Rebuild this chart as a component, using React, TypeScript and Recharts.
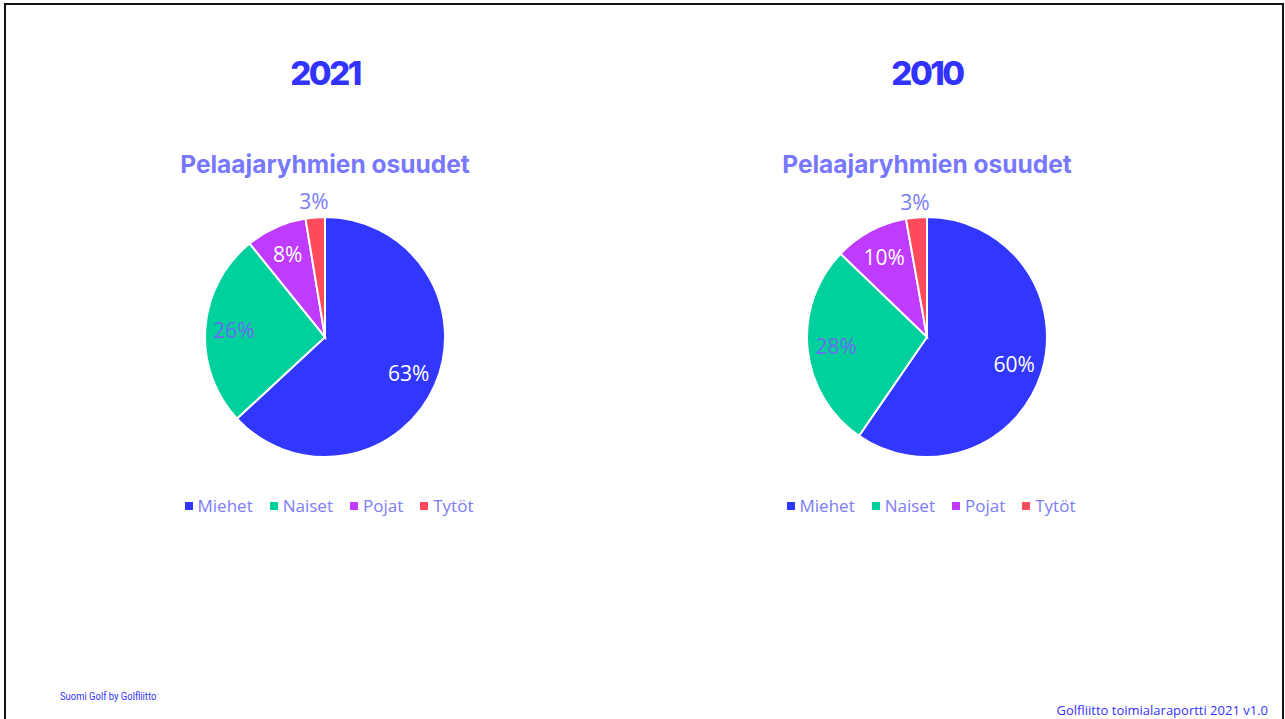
import { Cell, Legend, Pie, PieChart } from 'recharts';

const groups = ['Miehet', 'Naiset', 'Pojat', 'Tytöt'];
const shares2021 = [63.1, 26.1, 8.2, 2.6];
const shares2010 = [59.6, 27.6, 10.0, 2.8];
const years = ['2021', '2010'];
const subtitle = 'Pelaajaryhmien osuudet';

const sliceColors = ['#3237FF', '#00D09C', '#BF3BFF', '#FF4B5C'];
const labelColors = ['#FFFFFF', '#6B6BF2', '#FFFFFF', '#7B7BF8'];
const legendText = '#7D7DF7';

const RAD = Math.PI / 180;

function toRows(values: number[]) {
  return groups.map((name, i) => ({ name, value: values[i] }));
}

// small slices get their label just outside the pie, the rest sit inside
function SliceLabel(props: any) {
  const { cx, cy, midAngle, outerRadius, percent, index } = props;
  const small = percent < 0.05;
  const r = small ? outerRadius + 16 : outerRadius * 0.76;
  const x = cx + r * Math.cos(-midAngle * RAD);
  const y = cy + r * Math.sin(-midAngle * RAD);
  return (
    <text
      x={x}
      y={y}
      fill={labelColors[index]}
      textAnchor="middle"
      dominantBaseline="central"
      fontFamily="'Open Sans', sans-serif"
      fontSize={21}
    >
      {`${Math.round(percent * 100)}%`}
    </text>
  );
}

function LegendRow({ payload }: any) {
  return (
    <div style={{ display: 'flex', justifyContent: 'center', gap: 17 }}>
      {(payload || []).map((p: any) => (
        <span key={p.value} style={{ display: 'flex', alignItems: 'center', gap: 5 }}>
          <span style={{ width: 8, height: 8, background: p.color, display: 'inline-block' }} />
          <span style={{ color: legendText, fontFamily: "'Open Sans', sans-serif", fontSize: 17 }}>
            {p.value}
          </span>
        </span>
      ))}
    </div>
  );
}

function YearPie({ year, values, left }: { year: string; values: number[]; left: number }) {
  const rows = toRows(values);
  return (
    <div style={{ position: 'absolute', left, top: 0, width: 600, height: 719 }}>
      <div
        style={{
          position: 'absolute',
          top: 53,
          width: 600,
          textAlign: 'center',
          color: '#3333FF',
          fontFamily: 'Inter, sans-serif',
          fontWeight: 800,
          fontSize: 33,
          letterSpacing: -2.5,
        }}
      >
        {year}
      </div>
      <div
        style={{
          position: 'absolute',
          top: 149,
          width: 600,
          textAlign: 'center',
          color: '#7878FF',
          fontFamily: 'Inter, sans-serif',
          fontWeight: 700,
          fontSize: 24.5,
        }}
      >
        {subtitle}
      </div>
      <div style={{ position: 'absolute', top: 170, left: 0 }}>
        <PieChart width={600} height={360} margin={{ top: 0, right: 0, bottom: 0, left: 0 }}>
          <Pie
            data={rows}
            dataKey="value"
            nameKey="name"
            cx={300}
            cy={167}
            outerRadius={120}
            startAngle={90}
            endAngle={-270}
            stroke="#FFFFFF"
            strokeWidth={2}
            label={SliceLabel}
            labelLine={false}
            isAnimationActive={false}
          >
            {rows.map((row, i) => (
              <Cell key={row.name} fill={sliceColors[i]} />
            ))}
          </Pie>
          <Legend
            content={LegendRow}
            wrapperStyle={{ position: 'absolute', top: 324, left: 4, width: 600 }}
          />
        </PieChart>
      </div>
    </div>
  );
}

export default function App() {
  return (
    <div
      style={{
        position: 'absolute',
        left: 0,
        top: 0,
        width: 1285,
        height: 719,
        background: '#FFFFFF',
        overflow: 'hidden',
      }}
    >
      <div
        style={{
          position: 'absolute',
          left: 4,
          top: 3,
          width: 1276,
          height: 800,
          border: '2.5px solid #111',
        }}
      />
      <YearPie year={years[0]} values={shares2021} left={25} />
      <YearPie year={years[1]} values={shares2010} left={627} />
      <div
        style={{
          position: 'absolute',
          left: 60,
          top: 689,
          color: '#3333FF',
          fontFamily: "'Liberation Sans Narrow', 'Roboto', sans-serif",
          fontSize: 11.5,
          whiteSpace: 'nowrap',
          transform: 'scaleX(0.82)',
          transformOrigin: 'left center',
        }}
      >
        Suomi Golf by Golfliitto
      </div>
      <div
        style={{
          position: 'absolute',
          right: 17,
          top: 701,
          color: '#3333FF',
          fontFamily: "'Open Sans', sans-serif",
          fontSize: 13,
          whiteSpace: 'nowrap',
        }}
      >
        Golfliitto toimialaraportti 2021 v1.0
      </div>
    </div>
  );
}
